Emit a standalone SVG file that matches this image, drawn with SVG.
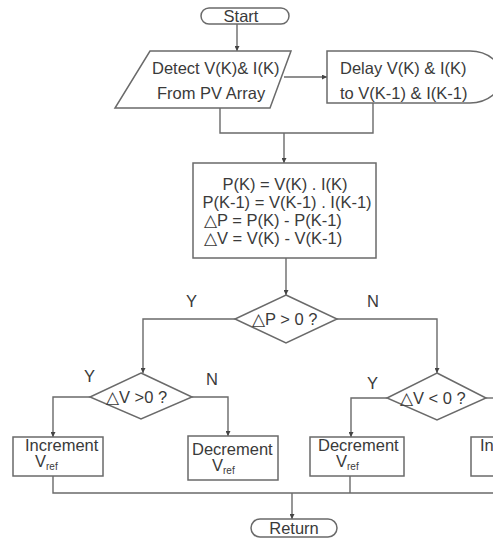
<svg xmlns="http://www.w3.org/2000/svg" width="493" height="538" viewBox="0 0 493 538">
<style>
.s{fill:#fff;stroke:#6a6a6a;stroke-width:1.5}
.c{fill:none;stroke:#6a6a6a;stroke-width:1.4}
text{font-family:"Liberation Sans",Arial,sans-serif;font-size:16.5px;fill:#3a3a3a}
.m{text-anchor:middle}
.sub{font-size:10px}
</style>
<defs>
<marker id="a" viewBox="0 0 8 8" refX="8" refY="4" markerWidth="5" markerHeight="5" orient="auto" markerUnits="userSpaceOnUse">
<path d="M0,0 L8,4 L0,8 Z" fill="#444"/>
</marker>
</defs>
<rect width="493" height="538" fill="#fff"/>
<g id="connectors">
<path class="c" d="M237,24 V51" marker-end="url(#a)"/>
<path class="c" d="M284,77 H327" marker-end="url(#a)"/>
<path class="c" d="M220,108 V133 H373 V103"/>
<path class="c" d="M284,133 V163" marker-end="url(#a)"/>
<path class="c" d="M286,258 V295" marker-end="url(#a)"/>
<path class="c" d="M235,319 H143 V373" marker-end="url(#a)"/>
<path class="c" d="M337,319 H437 V373" marker-end="url(#a)"/>
<path class="c" d="M90,397 H53 V437" marker-end="url(#a)"/>
<path class="c" d="M192,397 H228 V436" marker-end="url(#a)"/>
<path class="c" d="M387,398 H351 V437" marker-end="url(#a)"/>
<path class="c" d="M486,398 H493"/>
<path class="c" d="M53,476 V493 H493"/>
<path class="c" d="M350,476 V493"/>
<path class="c" d="M292,493 V519" marker-end="url(#a)"/>
</g>
<g id="start">
<rect class="s" x="201" y="8" width="88" height="16" rx="8"/>
<text class="m" x="241" y="22">Start</text>
</g>
<g id="detect">
<path class="s" d="M150,51 H291 L270,108 H115 Z"/>
<text x="152" y="74">Detect V(K)&amp; I(K)</text>
<text x="157" y="99">From PV Array</text>
</g>
<g id="delay">
<path class="s" d="M327,51 H470 A32 26 0 0 1 470,103 H327 Z"/>
<text x="340" y="74">Delay V(K) &amp; I(K)</text>
<text x="340" y="99">to V(K-1) &amp; I(K-1)</text>
</g>
<g id="calc">
<rect class="s" x="193" y="163" width="183" height="95"/>
<text class="m" x="285" y="190">P(K) = V(K) . I(K)</text>
<text class="m" x="287" y="208">P(K-1) = V(K-1) . I(K-1)</text>
<text x="204" y="226">△P = P(K) - P(K-1)</text>
<text x="204" y="244">△V = V(K) - V(K-1)</text>
</g>
<g id="dp">
<path class="s" d="M286,295 L337,319 L286,343 L235,319 Z"/>
<text x="252" y="325">△P &gt; 0 ?</text>
</g>
<text x="186" y="307">Y</text>
<text x="367" y="307">N</text>
<g id="dv1">
<path class="s" d="M141,373 L192,397 L141,419 L90,397 Z"/>
<text x="106" y="403">△V &gt;0 ?</text>
</g>
<text x="84" y="382">Y</text>
<text x="206" y="385">N</text>
<g id="dv2">
<path class="s" d="M437,373 L486,398 L437,420 L387,398 Z"/>
<text x="400" y="404">△V &lt; 0 ?</text>
</g>
<text x="367" y="389">Y</text>
<g id="inc1">
<rect class="s" x="13" y="437" width="90" height="39"/>
<text x="25" y="451">Increment</text>
<text x="35" y="467">V<tspan class="sub" dy="3">ref</tspan></text>
</g>
<g id="dec1">
<rect class="s" x="188" y="436" width="90" height="44"/>
<text x="192" y="455">Decrement</text>
<text x="212" y="471">V<tspan class="sub" dy="3">ref</tspan></text>
</g>
<g id="dec2">
<rect class="s" x="310" y="437" width="94" height="39"/>
<text x="318" y="451">Decrement</text>
<text x="336" y="467">V<tspan class="sub" dy="3">ref</tspan></text>
</g>
<g id="inc2">
<rect class="s" x="471" y="437" width="40" height="39"/>
<text x="480" y="451">Increment</text>
</g>
<g id="return">
<rect class="s" x="251" y="519" width="86" height="18" rx="9"/>
<text class="m" x="294" y="534">Return</text>
</g>
</svg>
